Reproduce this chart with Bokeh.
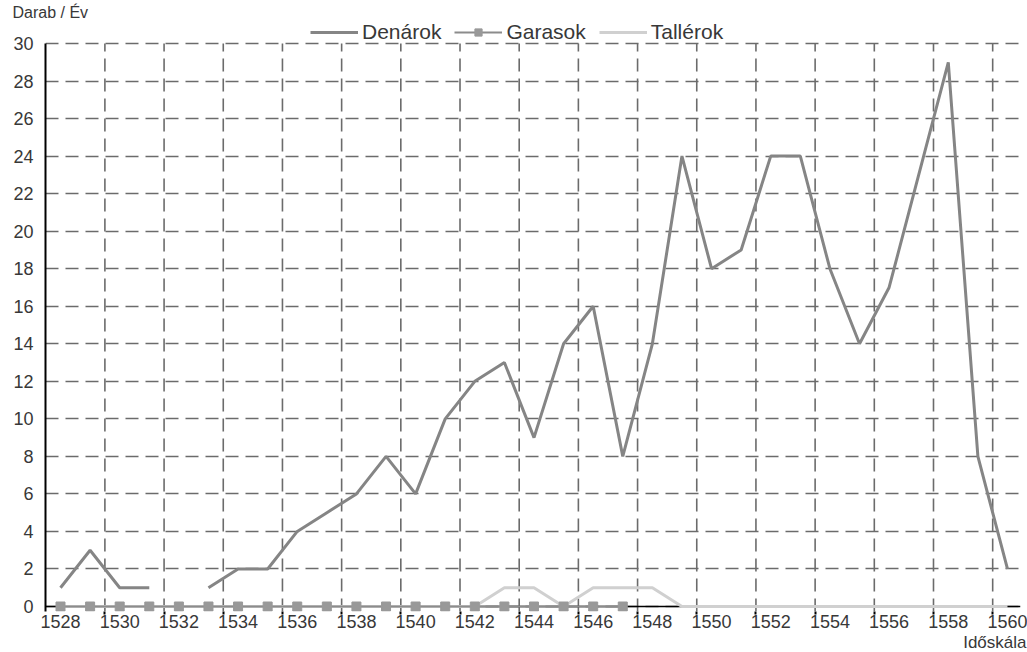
import numpy as np
from bokeh.plotting import figure
from bokeh.models import (FixedTicker, Range1d, Span, Legend, LegendItem,
                          ColumnDataSource, Title)
from bokeh.embed import file_html
from bokeh.resources import INLINE

# ---- data ----
years = list(range(1528, 1561))
denarok = [1, 3, 1, 1, np.nan, 1, 2, 2, 4, 5, 6, 8, 6, 10, 12, 13, 9, 14, 16, 8,
           14, 24, 18, 19, 24, 24, 18, 14, 17, 23, 29, 8, 2]
garasok_years = list(range(1528, 1548))
garasok = [0] * 20
tallerok = [0, 0, 0, 0, 0, 0, 0, 0, 0, 0, 0, 0, 0, 0, 0, 1, 1, 0, 1, 1,
            1, 0, 0, 0, 0, 0, 0, 0, 0, 0, 0, 0, 0]
x_tick_labels = list(range(1528, 1561, 2))
x_grid_pos = [y + 1.5 for y in range(1528, 1559, 2)]
y_ticks = list(range(0, 31, 2))

FONT = "Liberation Sans"
TXT = "#383838"
GRID = "#6b6b6b"
Y0, YMAX, YTOP = -0.266, 30, 31.2255

p = figure(width=1027, height=652, output_backend="svg", toolbar_location=None,
           x_range=Range1d(1527.493, 1560.44), y_range=Range1d(Y0, YTOP),
           min_border_left=45, min_border_right=7, min_border_top=20,
           min_border_bottom=41)
p.outline_line_color = None
p.background_fill_color = "white"

# axes
p.xaxis.ticker = FixedTicker(ticks=x_tick_labels, minor_ticks=x_grid_pos)
p.xaxis.axis_line_color = None
p.xaxis.major_tick_out = 0
p.xaxis.major_tick_in = 0
p.xaxis.minor_tick_out = 3
p.xaxis.minor_tick_in = 0
p.xaxis.minor_tick_line_color = "black"
p.xaxis.minor_tick_line_width = 2
p.xaxis.major_label_standoff = 0
p.xaxis.major_label_text_font = FONT
p.xaxis.major_label_text_font_size = "18px"
p.xaxis.major_label_text_color = TXT

p.yaxis.ticker = FixedTicker(ticks=y_ticks)
p.yaxis.bounds = (Y0, YMAX)
p.yaxis.axis_line_color = "black"
p.yaxis.axis_line_width = 2
p.yaxis.major_tick_out = 0
p.yaxis.major_tick_in = 0
p.yaxis.minor_tick_out = 0
p.yaxis.minor_tick_in = 0
p.yaxis.major_label_standoff = 12
p.yaxis.major_label_text_font = FONT
p.yaxis.major_label_text_font_size = "18px"
p.yaxis.major_label_text_color = TXT

# grids: horizontal via grid, vertical drawn only up to 30
p.xgrid.grid_line_color = None
p.ygrid.grid_line_color = GRID
p.ygrid.grid_line_width = 1.6
p.ygrid.grid_line_dash = "13 7"
n = len(x_grid_pos)
vg = p.segment(x0=x_grid_pos, y0=[Y0] * n, x1=x_grid_pos, y1=[YMAX] * n,
               line_color=GRID, line_width=1.6, line_dash="13 7")
vg.level = "underlay"

# x axis line at zero
p.add_layout(Span(location=0, dimension="width", line_color="black",
                  line_width=1.5, level="underlay"))

# series
src_d = ColumnDataSource(dict(x=years, y=np.array(denarok, dtype=float)))
r_t = p.line(years, tallerok, line_color="#d0d0d0", line_width=3)
r_gl = p.line(garasok_years, garasok, line_color="#8c8c8c", line_width=1.8)
r_gs = p.scatter(garasok_years, garasok, marker="square", size=9,
                 fill_color="#999999", line_color="#999999")
r_d = p.line("x", "y", source=src_d, line_color="#858585", line_width=3)

legend = Legend(items=[LegendItem(label="Denárok", renderers=[r_d]),
                       LegendItem(label="Garasok", renderers=[r_gl, r_gs]),
                       LegendItem(label="Tallérok", renderers=[r_t])],
                location=(265, 567), orientation="horizontal",
                border_line_color=None, background_fill_alpha=0,
                label_text_font=FONT, label_text_font_size="21px",
                label_text_line_height=1.0,
                label_text_color=TXT, glyph_width=48, glyph_height=18,
                label_height=18, label_standoff=4, spacing=13, padding=0,
                margin=0)
p.add_layout(legend, "center")

p.add_layout(Title(text="Darab / Év", align="left", offset=-33, standoff=0,
                   vertical_align="bottom", text_line_height=1.0,
                   text_font=FONT, text_font_size="16px", text_color=TXT,
                   text_font_style="normal"), "above")
p.add_layout(Title(text="Időskála", align="right", offset=-6, standoff=0,
                   text_font=FONT, text_font_size="17px", text_color=TXT,
                   text_font_style="normal"), "below")

open("out.html", "w").write(file_html(p, INLINE))
